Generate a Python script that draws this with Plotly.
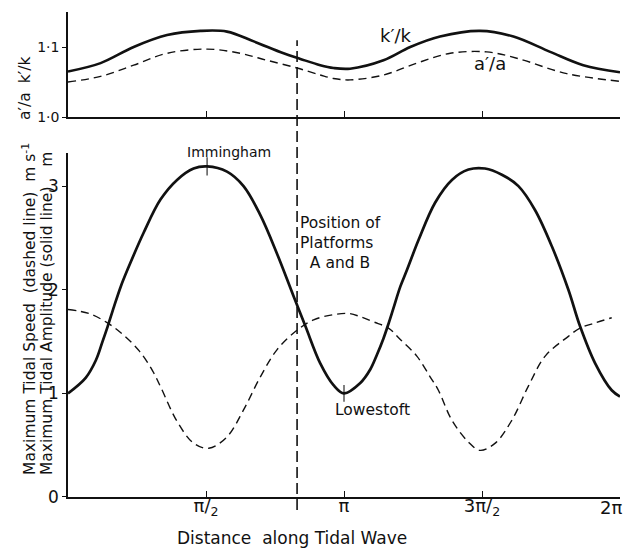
import math
import plotly.graph_objects as go

# ---------------- data ----------------
# x positions are given as fractions of pi (distance along the tidal wave)

# top panel: k'/k (solid)
k_x = [0.000, 0.118, 0.238, 0.359, 0.480, 0.576, 0.673, 0.781, 0.842, 0.914,
       0.962, 1.022, 1.143, 1.240, 1.348, 1.493, 1.614, 1.747, 1.867, 2.000]
k_ratio = [1.065, 1.077, 1.100, 1.117, 1.123, 1.122, 1.108, 1.091, 1.083, 1.074,
           1.070, 1.069, 1.081, 1.100, 1.115, 1.123, 1.115, 1.093, 1.074, 1.064]

# top panel: a'/a (dashed)
a_x = [0.000, 0.118, 0.238, 0.359, 0.504, 0.624, 0.721, 0.830, 0.914, 0.962,
       1.022, 1.143, 1.264, 1.385, 1.517, 1.626, 1.807, 2.000]
a_ratio = [1.050, 1.058, 1.074, 1.091, 1.097, 1.091, 1.081, 1.070, 1.060, 1.055,
           1.053, 1.060, 1.077, 1.091, 1.093, 1.084, 1.062, 1.051]

# bottom panel: maximum tidal amplitude, m (solid)
amp_x = [0.000, 0.064, 0.101, 0.125, 0.143, 0.167, 0.191, 0.215, 0.274, 0.335,
         0.395, 0.455, 0.504, 0.576, 0.636, 0.697, 0.757, 0.817, 0.860, 0.914,
         0.962, 1.000, 1.059, 1.095, 1.119, 1.143, 1.161, 1.179, 1.204, 1.228,
         1.270, 1.330, 1.391, 1.451, 1.511, 1.572, 1.632, 1.692, 1.753, 1.813,
         1.855, 1.910, 1.970, 2.000]
amplitude = [1.00, 1.15, 1.32, 1.50, 1.64, 1.84, 2.03, 2.19, 2.55, 2.87,
             3.06, 3.17, 3.19, 3.14, 3.00, 2.72, 2.35, 1.94, 1.65, 1.29,
             1.08, 1.00, 1.10, 1.23, 1.37, 1.53, 1.67, 1.82, 2.03, 2.19,
             2.48, 2.84, 3.06, 3.16, 3.17, 3.11, 3.00, 2.77, 2.42, 2.00,
             1.65, 1.29, 1.03, 0.97]

# bottom panel: maximum tidal speed, m/s (dashed)
spd_x = [0.000, 0.077, 0.143, 0.198, 0.258, 0.306, 0.336, 0.395, 0.455, 0.510,
         0.576, 0.636, 0.697, 0.757, 0.830, 0.890, 0.962, 1.022, 1.059, 1.107,
         1.161, 1.204, 1.264, 1.312, 1.342, 1.391, 1.451, 1.493, 1.548, 1.608,
         1.668, 1.729, 1.813, 1.855, 1.910, 1.970]
speed = [1.81, 1.77, 1.68, 1.57, 1.41, 1.22, 1.06, 0.73, 0.52, 0.47,
         0.58, 0.84, 1.16, 1.42, 1.61, 1.71, 1.76, 1.77, 1.74, 1.69,
         1.63, 1.52, 1.36, 1.16, 1.03, 0.74, 0.53, 0.45, 0.52, 0.74,
         1.07, 1.36, 1.55, 1.63, 1.68, 1.73]

platform_position_pi = 0.83          # position of platforms A and B (x / pi)
immingham_index = 12                 # index in amplitude (peak near pi/2)
lowestoft_index = 21                 # index in amplitude (trough at pi)

x_tick_fracs = [0.5, 1.0, 1.5, 2.0]
x_tick_text = ["\u03c0/<sub>2</sub>", "\u03c0", "3\u03c0/<sub>2</sub>", "2\u03c0"]
top_y_ticks = [1.0, 1.1]
top_y_text = ["1\u00b70", "1\u00b71"]
bottom_y_ticks = [0, 1, 2, 3]

# ---------------- figure ----------------
PI = math.pi
def rad(vals):
    return [v * PI for v in vals]

FONT = "DejaVu Sans"
BLACK = "#111111"
SMOOTH = 1.0

fig = go.Figure()
fig.add_trace(go.Scatter(x=rad(k_x), y=k_ratio, mode="lines", xaxis="x", yaxis="y",
                         line=dict(color=BLACK, width=2.6, shape="spline",
                                   smoothing=SMOOTH)))
fig.add_trace(go.Scatter(x=rad(a_x), y=a_ratio, mode="lines", xaxis="x", yaxis="y",
                         line=dict(color=BLACK, width=1.4, dash="8px,5px",
                                   shape="spline", smoothing=SMOOTH)))
fig.add_trace(go.Scatter(x=rad(amp_x), y=amplitude, mode="lines", xaxis="x2",
                         yaxis="y2",
                         line=dict(color=BLACK, width=2.7, shape="spline",
                                   smoothing=SMOOTH)))
fig.add_trace(go.Scatter(x=rad(spd_x), y=speed, mode="lines", xaxis="x2",
                         yaxis="y2",
                         line=dict(color=BLACK, width=1.4, dash="8px,5px",
                                   shape="spline", smoothing=SMOOTH)))
# station tick marks
fig.add_trace(go.Scatter(
    x=[amp_x[immingham_index] * PI, amp_x[lowestoft_index] * PI],
    y=[amplitude[immingham_index], amplitude[lowestoft_index]],
    mode="markers", xaxis="x2", yaxis="y2",
    marker=dict(symbol="line-ns", size=[13, 12],
                line=dict(color=BLACK, width=1.5))))

xrange = [0, 2 * PI]
tickvals = [f * PI for f in x_tick_fracs]
# the last label (2 pi) sits at the right edge; it is drawn as an annotation
# anchored to its tick so that it stays inside the picture
bottom_tick_text = x_tick_text[:-1] + [""]
axis_common = dict(showline=True, linecolor=BLACK, linewidth=1.6,
                   showgrid=False, zeroline=False, color=BLACK,
                   automargin=False)

fig.update_layout(
    width=625, height=549,
    margin=dict(l=68, r=5, t=12, b=52),
    paper_bgcolor="white", plot_bgcolor="white",
    showlegend=False,
    font=dict(family=FONT, color=BLACK, size=15),
    xaxis=dict(domain=[0, 1], range=xrange, anchor="y", tickvals=tickvals,
               ticks="inside", ticklen=6, tickwidth=1.4, tickcolor=BLACK,
               showticklabels=False, **axis_common),
    yaxis=dict(domain=[0.7835, 1], range=[1.0, 1.15], anchor="x",
               tickvals=top_y_ticks, ticktext=top_y_text, ticks="outside",
               ticklen=4, tickwidth=1.4, tickcolor=BLACK,
               tickfont=dict(size=14), **axis_common),
    xaxis2=dict(domain=[0, 1], range=xrange, anchor="y2", tickvals=tickvals,
                ticktext=bottom_tick_text, ticks="inside", ticklen=6,
                tickwidth=1.4, tickcolor=BLACK, tickfont=dict(size=18),
                ticklabelstandoff=-8, **axis_common),
    yaxis2=dict(domain=[0, 0.7093], range=[0, 3.32], anchor="x2",
                tickvals=bottom_y_ticks, ticks="outside", ticklen=4,
                tickwidth=1.4, tickcolor=BLACK, tickfont=dict(size=17),
                **axis_common),
)

# platform line
fig.add_shape(type="line", xref="x2", yref="paper",
              x0=platform_position_pi * PI, x1=platform_position_pi * PI,
              y0=-0.027, y1=0.942,
              line=dict(color=BLACK, width=1.6, dash="11px,5px"))

ann = []
ann.append(dict(xref="x2", yref="y2", x=tickvals[-1], y=0,
                text=x_tick_text[-1], showarrow=False, xanchor="right",
                yanchor="middle", xshift=4, yshift=-11, font=dict(size=18)))
ann.append(dict(xref="x2", yref="y2", x=amp_x[immingham_index] * PI,
                y=amplitude[immingham_index], text="Immingham",
                showarrow=False, xanchor="left", yanchor="middle",
                xshift=-22, yshift=14, font=dict(size=14)))
ann.append(dict(xref="x2", yref="y2", x=amp_x[lowestoft_index] * PI,
                y=amplitude[lowestoft_index], text="Lowestoft",
                showarrow=False, xanchor="left", yanchor="middle",
                xshift=-11, yshift=-17, font=dict(size=15.5)))
ann.append(dict(xref="x2", yref="y2", x=platform_position_pi * PI, y=2.45,
                text="Position of<br>Platforms<br>\u00a0\u00a0A and B",
                align="left", showarrow=False, xanchor="left", yanchor="middle",
                xshift=1, font=dict(size=15.5)))
ann.append(dict(xref="x", yref="y", x=1.19 * PI, y=1.116,
                text="k\u2032/k", showarrow=False, font=dict(size=18)))
ann.append(dict(xref="x", yref="y", x=1.53 * PI, y=1.076,
                text="a\u2032/a", showarrow=False, font=dict(size=18)))
# axis titles
ann.append(dict(xref="paper", yref="paper", x=0.4067, y=-0.0845,
                text="Distance\u00a0\u00a0along Tidal Wave", showarrow=False,
                xanchor="center", yanchor="middle", font=dict(size=17)))
ann.append(dict(xref="paper", yref="paper", x=-0.071, y=0.041,
                text="Maximum Tidal Speed\u00a0 (dashed line)\u00a0 m s<sup>-1</sup>",
                textangle=-90, showarrow=False, xanchor="center",
                yanchor="bottom", font=dict(size=15.5)))
ann.append(dict(xref="paper", yref="paper", x=-0.039, y=0.041,
                text="Maximum Tidal Amplitude (solid line)\u00a0\u00a0\u00a0 m",
                textangle=-90, showarrow=False, xanchor="center",
                yanchor="bottom", font=dict(size=15.5)))
ann.append(dict(xref="paper", yref="paper", x=-0.078, y=0.882,
                text="k\u2032/k", textangle=-90, showarrow=False,
                xanchor="center", yanchor="middle", font=dict(size=15.5)))
ann.append(dict(xref="paper", yref="paper", x=-0.078, y=0.806,
                text="a\u2032/a", textangle=-90, showarrow=False,
                xanchor="center", yanchor="middle", font=dict(size=15.5)))
fig.update_layout(annotations=ann)

# remove the browser's default page margin so the figure fills the window
fig.write_html("out.html",
               config={"displayModeBar": False},
               post_script="document.body.style.margin='0px';"
                           "document.body.style.overflow='hidden';")
